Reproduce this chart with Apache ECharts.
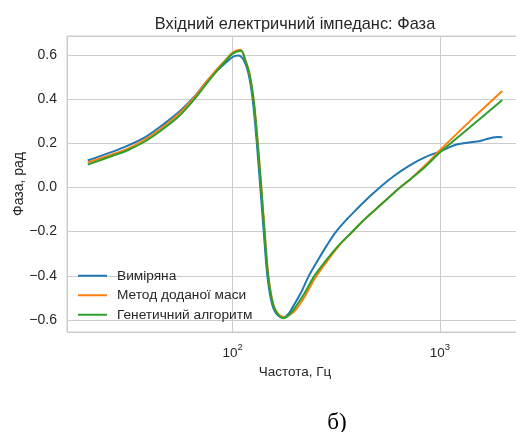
<!DOCTYPE html>
<html>
<head>
<meta charset="utf-8">
<script src="https://cdn.jsdelivr.net/npm/echarts@6/dist/echarts.min.js"></script>
<style>html,body{margin:0;padding:0;background:#fff;}#c{width:516px;height:432px;}</style>
</head>
<body>
<div id="c"></div>
<script>
// ---- data ----
const titleText = 'Вхідний електричний імпеданс: Фаза';
const xName = 'Частота, Гц';
const yName = 'Фаза, рад';
const seriesNames = ['Виміряна', 'Метод доданої маси', 'Генетичний алгоритм'];
const caption = 'б)';

const freqMeasured  = [20, 26.2, 31, 38.1, 46, 55.2, 65, 74.3, 84, 91.2, 100, 106.6, 113.0, 119.1, 125.0, 130.5, 136, 141.3, 146.7, 153.4, 161, 174.6, 185, 195, 212.6, 233.2, 257.8, 285, 316.3, 355, 395.4, 450, 512.8, 600, 716, 850, 1000, 1100, 1182, 1351, 1562, 1700, 1805, 1900, 2000];
const phaseMeasured = [0.122, 0.161, 0.188, 0.229, 0.283, 0.342, 0.408, 0.475, 0.529, 0.558, 0.59, 0.597, 0.577, 0.517, 0.396, 0.214, 0.0, -0.2, -0.39, -0.51, -0.565, -0.59, -0.575, -0.541, -0.48, -0.40, -0.329, -0.262, -0.199, -0.145, -0.100, -0.048, 0.0, 0.052, 0.100, 0.137, 0.163, 0.18, 0.192, 0.202, 0.21, 0.22, 0.226, 0.228, 0.227];

const freqMass  = [20, 26.2, 31, 38.1, 46, 55.2, 65, 74.3, 84, 91.2, 100, 109, 114.5, 120.2, 126.3, 131.9, 137.6, 142.8, 148.3, 155.3, 163.5, 178, 190, 203, 224, 250, 285, 325, 374, 425, 485, 560, 634, 716, 850, 1000, 1396, 2000];
const phaseMass = [0.113, 0.149, 0.174, 0.219, 0.272, 0.335, 0.405, 0.475, 0.535, 0.57, 0.61, 0.623, 0.585, 0.52, 0.396, 0.214, 0.0, -0.2, -0.39, -0.51, -0.565, -0.588, -0.575, -0.55, -0.49, -0.41, -0.335, -0.265, -0.205, -0.152, -0.103, -0.05, -0.005, 0.035, 0.10, 0.168, 0.300, 0.436];

const freqGA  = [20, 26.2, 31, 38.1, 46, 55.2, 65, 74.3, 84, 91.2, 100, 110.2, 114.8, 120.4, 126.3, 131.7, 137.4, 142.5, 148, 155, 163, 176, 188, 201, 222, 248, 283, 325, 374, 425, 485, 560, 634, 716, 850, 1000, 1396, 2000];
const phaseGA = [0.103, 0.142, 0.167, 0.21, 0.263, 0.323, 0.396, 0.466, 0.527, 0.565, 0.605, 0.618, 0.577, 0.517, 0.396, 0.214, 0.0, -0.2, -0.39, -0.51, -0.565, -0.592, -0.575, -0.541, -0.48, -0.40, -0.329, -0.262, -0.205, -0.152, -0.103, -0.05, -0.005, 0.035, 0.094, 0.158, 0.272, 0.395];

const colors = ['#1f77b4', '#ff7f0e', '#2ca02c'];

// ---- chart ----
const zip = (xs, ys) => xs.map((x, i) => [x, ys[i]]);
const txt = '#262626';
const chart = echarts.init(document.getElementById('c'), null, {renderer: 'canvas'});
const mk = (name, xs, ys, c) => ({
  name, type: 'line', data: zip(xs, ys), symbol: 'none', showSymbol: false, smooth: 0.3,
  lineStyle: {color: c, width: 2}, itemStyle: {color: c}, z: 3
});
chart.setOption({
  animation: false,
  backgroundColor: '#fff',
  textStyle: {fontFamily: 'Liberation Sans, Arial, sans-serif'},
  title: {
    text: titleText, left: 290, top: 11, textAlign: 'center',
    textStyle: {fontSize: 16.4, fontWeight: 'normal', color: txt, fontFamily: 'Liberation Sans'}
  },
  grid: {left: 67, top: 36, right: -7, bottom: 100, outerBoundsMode: 'none', show: true, borderColor: '#cccccc', borderWidth: 1, containLabel: false},
  xAxis: {
    type: 'log', logBase: 10, min: Math.pow(10, 1.201), max: Math.pow(10, 3.401),
    name: xName, nameLocation: 'middle', nameGap: 31,
    nameTextStyle: {fontSize: 13.5, color: txt},
    axisLine: {show: false}, axisTick: {show: false},
    splitLine: {show: true, lineStyle: {color: '#cccccc', width: 1}},
    minorSplitLine: {show: false},
    axisLabel: {
      showMinLabel: false, showMaxLabel: false, margin: 10, color: txt,
      formatter: v => '{b|10}{s|' + Math.round(Math.log10(v)) + '}',
      rich: {b: {fontSize: 13.5, color: txt, verticalAlign: 'bottom', lineHeight: 18}, s: {fontSize: 9.5, color: txt, verticalAlign: 'top', lineHeight: 18}}
    }
  },
  yAxis: {
    type: 'value', min: -0.654, max: 0.685, splitNumber: 7,
    name: yName, nameLocation: 'middle', nameGap: 41, nameMoveOverlap: false,
    nameTextStyle: {fontSize: 14, color: txt},
    axisLine: {show: false}, axisTick: {show: false},
    splitLine: {show: true, lineStyle: {color: '#cccccc', width: 1}},
    axisLabel: {
      showMinLabel: false, showMaxLabel: false, margin: 10, fontSize: 14, color: txt,
      formatter: v => { const s = (Math.abs(v) < 1e-9 ? 0 : v).toFixed(1); return s.replace('-', '\u2212'); }
    }
  },
  legend: {
    orient: 'vertical', left: 73, top: 263.5, itemWidth: 29, itemHeight: 2, itemGap: 5,
    icon: 'rect',
    data: seriesNames,
    textStyle: {fontSize: 13.7, color: txt, padding: [0, 0, 0, 5], lineHeight: 14.5}
  },
  graphic: [{
    type: 'text', x: 337, y: 411,
    style: {text: caption, fill: '#000', font: '23px "Liberation Serif", "Times New Roman", serif', align: 'center', verticalAlign: 'top'}
  }],
  series: [
    mk(seriesNames[0], freqMeasured, phaseMeasured, colors[0]),
    mk(seriesNames[1], freqMass, phaseMass, colors[1]),
    mk(seriesNames[2], freqGA, phaseGA, colors[2])
  ]
});
</script>
</body>
</html>
